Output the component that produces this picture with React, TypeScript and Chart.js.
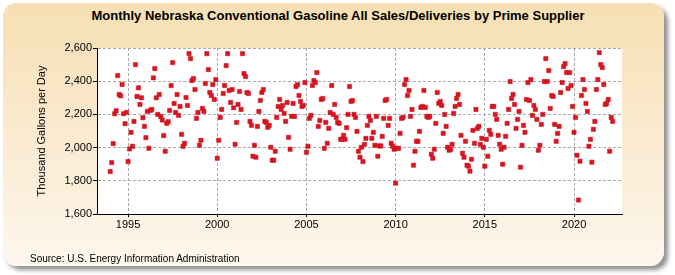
import React, { useEffect, useRef } from "react";
import { Chart, registerables } from "chart.js";

Chart.register(...registerables);

// Monthly values (thousand gallons per day), January..December
const START_YEAR = 1994;
const y1994 = [1856, 1910, 2024, 2204, 2222, 2434, 2320, 2312, 2380, 2204, 2144, 2212];
const y1995 = [1916, 1992, 2092, 2008, 2158, 2500, 2308, 2360, 2260, 2300, 2180, 2128];
const y1996 = [2060, 2218, 1996, 2224, 2230, 2420, 2476, 2300, 2200, 2320, 2188, 2166];
const y1997 = [2072, 1978, 2146, 2156, 2224, 2374, 2512, 2266, 2212, 2320, 2194, 2248];
const y1998 = [2080, 2008, 2026, 2302, 2254, 2566, 2536, 2404, 2416, 2350, 2176, 2212];
const y1999 = [2014, 2044, 2236, 2218, 2386, 2566, 2470, 2332, 2314, 2380, 2290, 2410];
const y2000 = [1936, 2044, 2182, 2230, 2326, 2374, 2494, 2566, 2344, 2272, 2350, 2240];
const y2001 = [2020, 2152, 2260, 2338, 2230, 2566, 2446, 2428, 2332, 2326, 2158, 2134];
const y2002 = [1948, 2014, 1942, 2128, 2218, 2284, 2332, 2350, 2158, 2152, 2122, 2134];
const y2003 = [2002, 1924, 1924, 1978, 2182, 2248, 2290, 2230, 2254, 2206, 2158, 2272];
const y2004 = [2062, 1990, 2188, 2266, 2188, 2368, 2380, 2314, 2278, 2248, 2254, 2392];
const y2005 = [1972, 2008, 2176, 2194, 2374, 2404, 2392, 2452, 2128, 2164, 2290, 2296];
const y2006 = [1996, 2152, 2026, 2116, 2212, 2374, 2200, 2260, 2182, 2152, 2146, 2050];
const y2007 = [2050, 2074, 2050, 2120, 2200, 2368, 2278, 2284, 2200, 2182, 2098, 1978];
const y2008 = [1942, 2002, 1916, 2020, 2056, 2134, 2188, 2164, 2056, 2092, 2014, 2188];
const y2009 = [1948, 2010, 2010, 2068, 2176, 2284, 2290, 2134, 2176, 2026, 2008, 1990];
const y2010 = [1786, 1996, 1996, 2086, 2176, 2182, 2380, 2410, 2314, 2344, 2188, 2230];
const y2011 = [1894, 1978, 2038, 2038, 2098, 2242, 2248, 2344, 2242, 2188, 2182, 2188];
const y2012 = [1960, 1936, 1990, 2146, 2332, 2266, 2278, 2254, 2086, 2200, 2128, 2002];
const y2013 = [1984, 1990, 2020, 2206, 2248, 2296, 2320, 2260, 2074, 1966, 1942, 2038];
const y2014 = [1894, 1888, 1858, 1930, 2104, 2026, 2230, 2116, 2128, 2020, 2056, 2002];
const y2015 = [1888, 2050, 1948, 2104, 2080, 2248, 2248, 2200, 2170, 2074, 2020, 1990];
const y2016 = [1900, 2002, 2068, 2146, 2230, 2398, 2296, 2320, 2260, 2116, 2170, 2218];
const y2017 = [1882, 2014, 2134, 2092, 2290, 2392, 2284, 2410, 2194, 2254, 2230, 2170];
const y2018 = [1984, 2014, 2140, 2200, 2398, 2536, 2398, 2464, 2236, 2314, 2308, 2140];
const y2019 = [2038, 2086, 2128, 2332, 2392, 2488, 2506, 2452, 2356, 2452, 2374, 2248];
const y2020 = [2092, 2182, 1954, 1684, 1918, 2314, 2410, 2350, 2266, 2218, 2008, 2050];
const y2021 = [1912, 2110, 2158, 2350, 2410, 2572, 2500, 2482, 2380, 2260, 2266, 2290];
const y2022 = [1978, 2182, 2158];

const xTickYears = [1995, 2000, 2005, 2010, 2015, 2020];
const yTickValues = [1600, 1800, 2000, 2200, 2400, 2600];
const X_MIN = 1993.26;
const X_MAX = 2022.69;

const TITLE = "Monthly Nebraska Conventional Gasoline All Sales/Deliveries by Prime Supplier";
const Y_TITLE = "Thousand Gallons per Day";
const SOURCE = "Source: U.S. Energy Information Administration";
const FONT = "'Liberation Sans Narrow', 'Liberation Sans', Arial, sans-serif";

export default function App() {
  const ref = useRef<HTMLCanvasElement>(null);

  useEffect(() => {
    if (!ref.current) return;
    const all = [
      ...y1994, ...y1995, ...y1996, ...y1997, ...y1998, ...y1999, ...y2000,
      ...y2001, ...y2002, ...y2003, ...y2004, ...y2005, ...y2006, ...y2007,
      ...y2008, ...y2009, ...y2010, ...y2011, ...y2012, ...y2013, ...y2014,
      ...y2015, ...y2016, ...y2017, ...y2018, ...y2019, ...y2020, ...y2021, ...y2022,
    ];
    const points = all.map((v, i) => ({ x: START_YEAR + i / 12, y: v }));

    const whiteArea = {
      id: "whiteArea",
      beforeDraw(chart: any) {
        const { ctx, chartArea: a } = chart;
        ctx.save();
        ctx.fillStyle = "#ffffff";
        ctx.fillRect(a.left, a.top, a.right - a.left, a.bottom - a.top);
        ctx.restore();
      },
    };

    const gridOpts = {
      color: "#a8a8a8",
      lineWidth: 1,
      tickColor: "#000",
      tickLength: 4,
    };
    const borderOpts = { display: true, color: "#000", width: 1, dash: [3, 2] };

    const chart = new Chart(ref.current, {
      type: "scatter",
      data: {
        datasets: [
          {
            data: points,
            pointStyle: "rect",
            pointRadius: 3,
            backgroundColor: "#dc1420",
            borderColor: "#c40f1b",
            borderWidth: 0.5,
            showLine: false,
          },
        ],
      },
      options: {
        animation: false,
        responsive: false,
        maintainAspectRatio: false,
        layout: { padding: { left: 31, right: 53, top: 48, bottom: 31 } },
        plugins: { legend: { display: false }, tooltip: { enabled: false }, title: { display: false } },
        scales: {
          x: {
            type: "linear",
            min: X_MIN,
            max: X_MAX,
            afterBuildTicks: (s: any) => {
              s.ticks = xTickYears.map((v) => ({ value: v }));
            },
            afterFit: (s: any) => {
              s.height = 30;
            },
            ticks: {
              color: "#000",
              font: { family: FONT, size: 11 },
              padding: 1,
              maxRotation: 0,
              autoSkip: false,
              callback: (v: any) => String(v),
            },
            grid: { ...gridOpts, tickLength: 3 },
            border: borderOpts,
          },
          y: {
            type: "linear",
            min: 1600,
            max: 2600,
            afterBuildTicks: (s: any) => {
              s.ticks = yTickValues.map((v) => ({ value: v }));
            },
            afterFit: (s: any) => {
              s.width = 66;
            },
            ticks: {
              color: "#000",
              font: { family: FONT, size: 11 },
              padding: 1,
              autoSkip: false,
              callback: (v: any) => Number(v).toLocaleString("en-US"),
            },
            grid: gridOpts,
            border: borderOpts,
            title: {
              display: true,
              text: Y_TITLE,
              color: "#000",
              font: { family: FONT, size: 11 },
              padding: { top: 4, bottom: 0 },
            },
          },
        },
      },
      plugins: [whiteArea],
    } as any);

    return () => chart.destroy();
  }, []);

  return (
    <div style={{ position: "absolute", left: 0, top: 0, width: 675, height: 275, background: "#ffffff", overflow: "hidden" }}>
      <div
        style={{
          position: "absolute",
          left: 3,
          top: 3,
          width: 661,
          height: 263,
          borderRadius: 14,
          background: "linear-gradient(to bottom, #f6dfb3 0%, #fae9cd 45%, #fdf7ee 100%)",
          boxShadow: "4px 4px 4px rgba(110,110,110,0.75)",
        }}
      />
      <div
        style={{
          position: "absolute",
          left: 0,
          top: 8,
          width: 676,
          textAlign: "center",
          fontFamily: FONT,
          fontWeight: "bold",
          fontSize: 13,
          lineHeight: "15px",
          color: "#000",
        }}
      >
        {TITLE}
      </div>
      <canvas ref={ref} width={675} height={275} style={{ position: "absolute", left: 0, top: 0, width: 675, height: 275 }} />
      <div
        style={{
          position: "absolute",
          left: 30,
          top: 253,
          fontFamily: FONT,
          fontSize: 10,
          lineHeight: "12px",
          color: "#000",
        }}
      >
        {SOURCE}
      </div>
    </div>
  );
}
